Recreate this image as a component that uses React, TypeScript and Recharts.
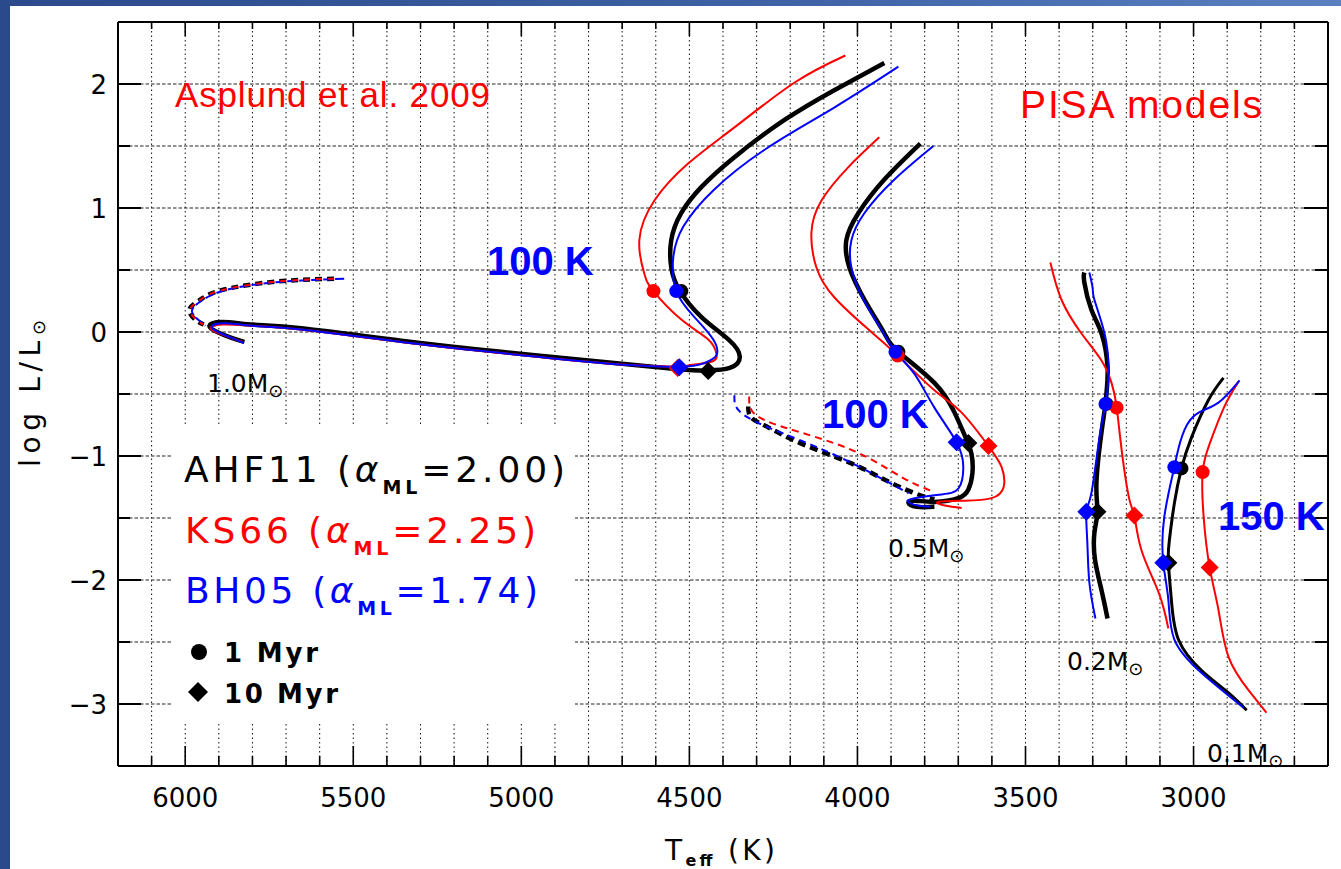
import React from 'react';
import { ComposedChart, Line, Scatter, XAxis, YAxis, CartesianGrid } from 'recharts';

type P = [number, number];

// axis ticks: every 100 K on Teff, every 0.5 dex on log L
const tempTicks = [
  6100, 6000, 5900, 5800, 5700, 5600, 5500, 5400, 5300, 5200, 5100, 5000, 4900, 4800, 4700, 4600, 4500, 4400,
  4300, 4200, 4100, 4000, 3900, 3800, 3700, 3600, 3500, 3400, 3300, 3200, 3100, 3000, 2900, 2800, 2700,
];
const lumTicks = [-3, -2.5, -2, -1.5, -1, -0.5, 0, 0.5, 1, 1.5, 2];

// 1.0 Msun tracks [Teff, log L]
const ahf11M10: P[] = [
  [3920, 2.17], [4069, 1.95], [4217, 1.71], [4366, 1.41], [4464, 1.17], [4524, 0.96], [4554, 0.74], [4554, 0.52],
  [4530, 0.34], [4464, 0.12], [4384, -0.06], [4350, -0.2], [4380, -0.29], [4444, -0.31], [4533, -0.3],
  [4762, -0.24], [5060, -0.16], [5357, -0.07], [5655, 0.03], [5800, 0.06], [5890, 0.08], [5928, 0.05],
  [5905, 0.0], [5860, -0.05], [5824, -0.08],
];
const ks66M10: P[] = [
  [4036, 2.23], [4188, 2.01], [4366, 1.65], [4503, 1.36], [4604, 1.06], [4649, 0.74], [4634, 0.47], [4607, 0.33],
  [4524, 0.1], [4444, -0.06], [4420, -0.17], [4435, -0.24], [4503, -0.27], [4540, -0.28], [4762, -0.25],
  [5060, -0.17], [5357, -0.08], [5655, 0.02], [5800, 0.05], [5890, 0.06], [5925, 0.03], [5900, -0.01],
  [5860, -0.05], [5830, -0.08],
];
const bh05M10: P[] = [
  [3878, 2.14], [4069, 1.81], [4265, 1.49], [4426, 1.15], [4518, 0.85], [4548, 0.6], [4539, 0.33], [4485, 0.12],
  [4429, -0.06], [4420, -0.19], [4455, -0.25], [4530, -0.28], [4762, -0.25], [5060, -0.17], [5357, -0.08],
  [5655, 0.02], [5800, 0.05], [5885, 0.07], [5922, 0.04], [5895, -0.01], [5860, -0.05], [5825, -0.09],
];
const ahf11M10Shift: P[] = [
  [5557, 0.43], [5655, 0.42], [5753, 0.4], [5854, 0.36], [5923, 0.31], [5961, 0.25], [5988, 0.18], [5970, 0.1], [5945, 0.06],
];
const ks66M10Shift: P[] = [
  [5557, 0.43], [5655, 0.42], [5753, 0.4], [5854, 0.36], [5923, 0.31], [5961, 0.25], [5985, 0.18], [5968, 0.1], [5945, 0.06],
];
const bh05M10Shift: P[] = [
  [5527, 0.43], [5655, 0.415], [5753, 0.395], [5854, 0.355], [5920, 0.3], [5958, 0.24], [5980, 0.17], [5962, 0.1], [5940, 0.05],
];

// 0.5 Msun tracks
const ahf11M05: P[] = [
  [3813, 1.52], [3920, 1.23], [3997, 0.96], [4033, 0.74], [4024, 0.52], [3979, 0.26], [3920, -0.01], [3878, -0.16],
  [3771, -0.41], [3711, -0.65], [3680, -0.84], [3661, -0.98], [3658, -1.14], [3670, -1.27], [3700, -1.34],
  [3771, -1.37], [3830, -1.36], [3848, -1.38], [3824, -1.41], [3771, -1.41],
];
const ks66M05: P[] = [
  [3935, 1.57], [4027, 1.33], [4107, 1.06], [4137, 0.8], [4122, 0.52], [4069, 0.28], [3967, 0.02], [3880, -0.19],
  [3771, -0.47], [3690, -0.65], [3610, -0.92], [3571, -1.09], [3565, -1.25], [3601, -1.34], [3682, -1.36],
  [3760, -1.37], [3740, -1.4], [3690, -1.42],
];
const bh05M05: P[] = [
  [3774, 1.5], [3890, 1.23], [3979, 0.96], [4018, 0.74], [4018, 0.52], [3982, 0.26], [3929, 0.02], [3887, -0.16],
  [3830, -0.34], [3771, -0.61], [3705, -0.89], [3685, -1.09], [3699, -1.26], [3750, -1.31], [3830, -1.34],
  [3850, -1.37], [3820, -1.4], [3783, -1.41],
];
const ahf11M05Shift: P[] = [
  [4325, -0.6], [4316, -0.69], [4265, -0.77], [4167, -0.9], [4018, -1.06], [3920, -1.19], [3830, -1.3], [3771, -1.35],
];
const ks66M05Shift: P[] = [
  [4322, -0.52], [4310, -0.65], [4217, -0.77], [4018, -0.95], [3869, -1.17], [3771, -1.29],
];
const bh05M05Shift: P[] = [
  [4366, -0.51], [4354, -0.63], [4265, -0.77], [4069, -0.99], [3848, -1.3],
];

// 0.2 Msun tracks
const ahf11M02: P[] = [
  [3325, 0.48], [3325, 0.4], [3304, 0.18], [3274, -0.01], [3256, -0.28], [3259, -0.49], [3262, -0.58], [3274, -0.81],
  [3289, -1.22], [3286, -1.45], [3295, -1.62], [3293, -1.84], [3274, -2.08], [3256, -2.31],
];
const ks66M02: P[] = [
  [3426, 0.56], [3393, 0.26], [3334, -0.01], [3274, -0.23], [3244, -0.41], [3229, -0.6], [3214, -0.95],
  [3191, -1.35], [3176, -1.48], [3155, -1.76], [3104, -2.1], [3075, -2.39],
];
const bh05M02: P[] = [
  [3310, 0.48], [3300, 0.35], [3295, 0.26], [3265, -0.01], [3253, -0.28], [3256, -0.47], [3262, -0.58],
  [3280, -0.85], [3304, -1.3], [3319, -1.45], [3316, -1.7], [3310, -2.02], [3292, -2.31],
];

// 0.1 Msun tracks
const ahf11M01: P[] = [
  [2911, -0.37], [2956, -0.55], [3006, -0.85], [3036, -1.1], [3057, -1.38], [3072, -1.68], [3075, -1.86],
  [3066, -2.16], [3045, -2.48], [2976, -2.73], [2896, -2.91], [2842, -3.05],
];
const ks66M01: P[] = [
  [2866, -0.4], [2908, -0.6], [2952, -0.9], [2973, -1.13], [2970, -1.49], [2952, -1.9], [2926, -2.24],
  [2896, -2.62], [2836, -2.89], [2783, -3.07],
];
const bh05M01: P[] = [
  [2863, -0.39], [2926, -0.57], [2985, -0.65], [3027, -0.79], [3051, -1.01], [3057, -1.09], [3087, -1.49],
  [3090, -1.86], [3075, -2.16], [3057, -2.48], [2976, -2.75], [2851, -3.03],
];

// age markers: 1 Myr (circle) and 10 Myr (diamond)
const ahf11Age1: P[] = [[4524, 0.33], [3878, -0.16], [3259, -0.58], [3036, -1.1]];
const ks66Age1: P[] = [[4607, 0.33], [3880, -0.19], [3229, -0.61], [2973, -1.13]];
const bh05Age1: P[] = [[4539, 0.33], [3887, -0.16], [3262, -0.58], [3057, -1.09]];
const ahf11Age10: P[] = [[4444, -0.315], [3670, -0.895], [3286, -1.45], [3075, -1.86]];
const ks66Age10: P[] = [[4535, -0.29], [3610, -0.92], [3176, -1.48], [2952, -1.9]];
const bh05Age10: P[] = [[4530, -0.285], [3705, -0.89], [3319, -1.45], [3090, -1.86]];

const BLACK = '#000000';
const RED = '#ff0000';
const BLUE = '#0000ff';
const HERSHEY = '"DejaVu Sans", sans-serif';
const ARIAL = '"Liberation Sans", Arial, sans-serif';

const toPts = (a: P[]) => a.map(([t, l]) => ({ t, l }));

const tracks = [
  { key: 'a10s', data: ahf11M10Shift, color: BLACK, w: 4.5, dash: '7 5' },
  { key: 'b10s', data: bh05M10Shift, color: BLUE, w: 2, dash: '9 3' },
  { key: 'k10s', data: ks66M10Shift, color: RED, w: 2, dash: '6 6' },
  { key: 'a05s', data: ahf11M05Shift, color: BLACK, w: 4.5, dash: '8 5' },
  { key: 'k05s', data: ks66M05Shift, color: RED, w: 2, dash: '7 5' },
  { key: 'b05s', data: bh05M05Shift, color: BLUE, w: 2, dash: '7 5' },
  { key: 'a10', data: ahf11M10, color: BLACK, w: 4.5 },
  { key: 'a05', data: ahf11M05, color: BLACK, w: 4.5 },
  { key: 'a02', data: ahf11M02, color: BLACK, w: 4.5 },
  { key: 'a01', data: ahf11M01, color: BLACK, w: 3 },
  { key: 'k10', data: ks66M10, color: RED, w: 2 },
  { key: 'k05', data: ks66M05, color: RED, w: 2 },
  { key: 'k02', data: ks66M02, color: RED, w: 2 },
  { key: 'k01', data: ks66M01, color: RED, w: 2 },
  { key: 'b10', data: bh05M10, color: BLUE, w: 2 },
  { key: 'b05', data: bh05M05, color: BLUE, w: 2 },
  { key: 'b02', data: bh05M02, color: BLUE, w: 2 },
  { key: 'b01', data: bh05M01, color: BLUE, w: 2 },
];

const markers = [
  { key: 'ad', data: ahf11Age10, color: BLACK, kind: 'diamond' },
  { key: 'ac', data: ahf11Age1, color: BLACK, kind: 'circle' },
  { key: 'kd', data: ks66Age10, color: RED, kind: 'diamond' },
  { key: 'kc', data: ks66Age1, color: RED, kind: 'circle' },
  { key: 'bd', data: bh05Age10, color: BLUE, kind: 'diamond' },
  { key: 'bc', data: bh05Age1, color: BLUE, kind: 'circle' },
];

const markerShape = (color: string, kind: string) => (p: any) => {
  const { cx, cy } = p;
  if (kind === 'circle') return <circle cx={cx} cy={cy} r={7} fill={color} />;
  const s = 9;
  return <polygon points={`${cx},${cy - s} ${cx + s},${cy} ${cx},${cy + s} ${cx - s},${cy}`} fill={color} />;
};

const BottomTick = (p: any) => {
  const { x, y, payload } = p;
  const major = payload.value % 500 === 0;
  return (
    <g>
      <line x1={x} y1={y} x2={x} y2={y - (major ? 20 : 10)} stroke={BLACK} strokeWidth={1.6} />
      {major && (
        <text x={x} y={y + 41} textAnchor="middle" fontSize={26} fontFamily={HERSHEY} fill={BLACK}>
          {payload.value}
        </text>
      )}
    </g>
  );
};

const TopTick = (p: any) => {
  const { x, y, payload } = p;
  const major = payload.value % 500 === 0;
  return <line x1={x} y1={y} x2={x} y2={y + (major ? 14 : 7)} stroke={BLACK} strokeWidth={1.6} />;
};

const LeftTick = (p: any) => {
  const { x, y, payload } = p;
  const major = Number.isInteger(payload.value);
  const label = payload.value < 0 ? `\u2212${Math.abs(payload.value)}` : `${payload.value}`;
  return (
    <g>
      <line x1={x} y1={y} x2={x + (major ? 23 : 12)} y2={y} stroke={BLACK} strokeWidth={2} />
      {major && (
        <text x={x - 11} y={y + 10} textAnchor="end" fontSize={26} fontFamily={HERSHEY} fill={BLACK}>
          {label}
        </text>
      )}
    </g>
  );
};

const RightTick = (p: any) => {
  const { x, y, payload } = p;
  const major = Number.isInteger(payload.value);
  return <line x1={x} y1={y} x2={x - (major ? 24 : 13)} y2={y} stroke={BLACK} strokeWidth={2} />;
};

const MassLabel = ({ x, y, text }: { x: number; y: number; text: string }) => (
  <text x={x} y={y} fontSize={25} fontFamily={HERSHEY} fill={BLACK}>
    {text}
    <tspan fontSize={18} dy={5}>⊙</tspan>
  </text>
);

export default function App() {
  return (
    <div style={{ position: 'absolute', left: 0, top: 0, width: 1341, height: 869, background: '#fff', overflow: 'hidden' }}>
      <div style={{ position: 'absolute', left: 0, top: 0, width: 10, height: 869, background: '#2a4a8c' }} />
      <div
        style={{
          position: 'absolute',
          left: 0,
          top: 0,
          width: 1341,
          height: 6,
          background: 'linear-gradient(to right, #2a4a8c, #3f63a6 60%, #5a80c2)',
        }}
      />
      <ComposedChart width={1341} height={869} margin={{ top: 21, right: 12, bottom: 102, left: 117 }}>
        <CartesianGrid horizontal={false} stroke="#111" strokeWidth={1} strokeDasharray="1.5 3" />
        <CartesianGrid vertical={false} stroke="#222" strokeWidth={1} strokeDasharray="3.5 2" />
        <XAxis
          type="number"
          dataKey="t"
          domain={[2600, 6200]}
          reversed
          allowDataOverflow
          ticks={tempTicks}
          interval={0}
          height={1}
          tickSize={0}
          tickMargin={0}
          tickLine={false}
          axisLine={{ stroke: BLACK, strokeWidth: 2 }}
          tick={BottomTick}
        />
        <XAxis
          xAxisId="top"
          orientation="top"
          type="number"
          dataKey="t"
          domain={[2600, 6200]}
          reversed
          allowDataOverflow
          ticks={tempTicks}
          interval={0}
          height={1}
          tickSize={0}
          tickMargin={0}
          tickLine={false}
          axisLine={{ stroke: BLACK, strokeWidth: 2 }}
          tick={TopTick}
        />
        <YAxis
          type="number"
          dataKey="l"
          domain={[-3.5, 2.5]}
          allowDataOverflow
          ticks={lumTicks}
          interval={0}
          width={1}
          tickSize={0}
          tickMargin={0}
          tickLine={false}
          axisLine={{ stroke: BLACK, strokeWidth: 2 }}
          tick={LeftTick}
        />
        <YAxis
          yAxisId="right"
          orientation="right"
          type="number"
          dataKey="l"
          domain={[-3.5, 2.5]}
          allowDataOverflow
          ticks={lumTicks}
          interval={0}
          width={1}
          tickSize={0}
          tickMargin={0}
          tickLine={false}
          axisLine={{ stroke: BLACK, strokeWidth: 2 }}
          tick={RightTick}
        />
        {tracks.map((tr) => (
          <Line
            key={tr.key}
            data={toPts(tr.data)}
            dataKey="l"
            type="natural"
            stroke={tr.color}
            strokeWidth={tr.w}
            strokeDasharray={tr.dash}
            dot={false}
            activeDot={false}
            isAnimationActive={false}
          />
        ))}
        {markers.map((m) => (
          <Scatter
            key={m.key}
            data={toPts(m.data)}
            dataKey="l"
            shape={markerShape(m.color, m.kind)}
            isAnimationActive={false}
          />
        ))}
      </ComposedChart>
      <svg width={1341} height={869} style={{ position: 'absolute', left: 0, top: 0, pointerEvents: 'none' }}>
        {/* legend panel hides the grid behind it */}
        <rect x={172} y={427} width={403} height={295} fill="#fff" />
        <text x={184} y={482} fontSize={36} fontFamily={HERSHEY} fill={BLACK} textLength={381} lengthAdjust="spacing">
          AHF11 (<tspan fontStyle="italic">α</tspan>
          <tspan fontSize={19} fontWeight="bold" dy={12}>ML</tspan>
          <tspan dy={-12}>=2.00)</tspan>
        </text>
        <text x={185} y={543} fontSize={36} fontFamily={HERSHEY} fill={RED} textLength={351} lengthAdjust="spacing">
          KS66 (<tspan fontStyle="italic">α</tspan>
          <tspan fontSize={19} fontWeight="bold" dy={12}>ML</tspan>
          <tspan dy={-12}>=2.25)</tspan>
        </text>
        <text x={185} y={603} fontSize={36} fontFamily={HERSHEY} fill={BLUE} textLength={353} lengthAdjust="spacing">
          BH05 (<tspan fontStyle="italic">α</tspan>
          <tspan fontSize={19} fontWeight="bold" dy={12}>ML</tspan>
          <tspan dy={-12}>=1.74)</tspan>
        </text>
        <circle cx={199} cy={652} r={8} fill={BLACK} />
        <text x={224} y={662} fontSize={26} fontWeight="bold" fontFamily={HERSHEY} fill={BLACK} textLength={94} lengthAdjust="spacing">
          1 Myr
        </text>
        <polygon points="198,682 208,692 198,702 188,692" fill={BLACK} />
        <text x={224} y={703} fontSize={26} fontWeight="bold" fontFamily={HERSHEY} fill={BLACK} textLength={114} lengthAdjust="spacing">
          10 Myr
        </text>

        <text x={175} y={107} fontSize={35} fontFamily={ARIAL} fill={RED} textLength={315} lengthAdjust="spacing">
          Asplund et al. 2009
        </text>
        <text x={1020} y={118} fontSize={39} fontFamily={ARIAL} fill={RED} textLength={242} lengthAdjust="spacing">
          PISA models
        </text>
        <text x={487} y={275} fontSize={40} fontWeight="bold" fontFamily={ARIAL} fill={BLUE}>100 K</text>
        <text x={822} y={428} fontSize={40} fontWeight="bold" fontFamily={ARIAL} fill={BLUE}>100 K</text>
        <text x={1218} y={530} fontSize={40} fontWeight="bold" fontFamily={ARIAL} fill={BLUE}>150 K</text>

        <MassLabel x={207} y={392} text="1.0M" />
        <MassLabel x={888} y={557} text="0.5M" />
        <MassLabel x={1067} y={670} text="0.2M" />
        <MassLabel x={1207} y={762} text="0.1M" />

        <text transform="translate(40,467) rotate(-90)" fontSize={28} fontFamily={HERSHEY} fill={BLACK} textLength={147} lengthAdjust="spacing">
          log L/L<tspan fontSize={18} dy={5}>⊙</tspan>
        </text>
        <text x={665} y={860} fontSize={28} fontFamily={HERSHEY} fill={BLACK} textLength={110} lengthAdjust="spacing">
          T<tspan fontSize={16} fontWeight="bold" dy={6}>eff</tspan>
          <tspan dy={-6}> (K)</tspan>
        </text>
      </svg>
    </div>
  );
}
